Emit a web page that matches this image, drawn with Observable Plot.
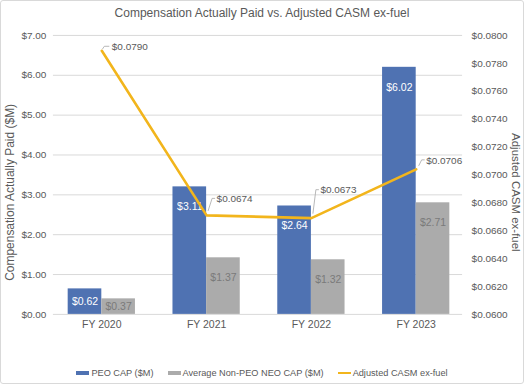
<!DOCTYPE html>
<html><head><meta charset="utf-8">
<script src="https://cdn.jsdelivr.net/npm/d3@7"></script>
<script src="https://cdn.jsdelivr.net/npm/@observablehq/plot@0.6"></script>
<style>
body{margin:0;background:#fff;font-family:"Liberation Sans",Arial,sans-serif;}
#wrap{position:relative;width:524px;height:384px;box-sizing:border-box;border:1px solid #d9d9d9;border-radius:3px;overflow:hidden;background:#fff;}
#title{position:absolute;left:-1px;width:524px;top:5px;text-align:center;font-size:12px;color:#595959;white-space:nowrap;}
#plot{position:absolute;left:-1px;top:-1px;}
#legend{position:absolute;top:367px;left:-1px;width:524px;display:flex;justify-content:center;align-items:center;font-size:9.2px;color:#595959;white-space:nowrap;}
.item{display:flex;align-items:center;margin:0 7px;}
.sw{display:inline-block;width:13px;margin-right:2px;}
</style></head>
<body>
<div id="wrap">
  <div id="plot"></div>
  <div id="title"></div>
  <div id="legend"></div>
</div>
<script>
// ---- data ----
const years = ["FY 2020", "FY 2021", "FY 2022", "FY 2023"];
const peoCap = [0.64, 3.20, 2.72, 6.20];
const peoLabels = ["$0.62", "$3.11", "$2.64", "$6.02"];
const neoCap = [0.39, 1.42, 1.37, 2.80];
const neoLabels = ["$0.37", "$1.37", "$1.32", "$2.71"];
const casm = [0.0789, 0.0671, 0.0669, 0.0704];
const casmLabels = ["$0.0790", "$0.0674", "$0.0673", "$0.0706"];
const leftTicks = [0, 1, 2, 3, 4, 5, 6, 7];
const rightTicks = [0.060, 0.062, 0.064, 0.066, 0.068, 0.070, 0.072, 0.074, 0.076, 0.078, 0.080];
const seriesNames = ["PEO CAP ($M)", "Average Non-PEO NEO CAP ($M)", "Adjusted CASM ex-fuel"];
const titleText = "Compensation Actually Paid vs. Adjusted CASM ex-fuel";
const leftTitle = "Compensation Actually Paid ($M)";
const rightTitle = "Adjusted CASM ex-fuel";

// ---- style ----
const BLUE = "#4f72b2", GRAY = "#ababab", GOLD = "#f2b51c", TXT = "#595959";
const FONT = '"Liberation Sans", Arial, sans-serif';
// label offsets (px) for the line data labels and leader lines
const lineLabelOffsets = [
  {dx: 10, dy: -4, lead: [[1,-1],[3,-4],[8,-4]]},
  {dx: 10, dy: -16.5, lead: [[2,-4],[6,-16.5],[9,-16.5]]},
  {dx: 9, dy: -28, lead: [[2,-4],[5,-28],[8,-28]]},
  {dx: 10, dy: -9, lead: [[3,-3],[6,-9],[9,-9]]}
];

const toLeft = d3.scaleLinear().domain([0.06, 0.08]).range([0, 7]);
const rows = years.map((year, i) => ({year, i, peo: peoCap[i], neo: neoCap[i], casm: casm[i]}));

const outer = 18.8, half = 52.5, barHalfW = 16.85;

const leaders = (index, scales) => {
  const g = d3.create("svg:g").attr("fill", "none").attr("stroke", "#a6a6a6").attr("stroke-width", 0.8);
  const step = scales.x(years[1]) - scales.x(years[0]);
  rows.forEach((r, i) => {
    const px = scales.x(r.year) + step / 2;
    const py = scales.y(toLeft(r.casm));
    const pts = lineLabelOffsets[i].lead.map(([a, b]) => [px + a, py + b]);
    g.append("path").attr("d", d3.line()(pts));
  });
  return g.node();
};

const axisTitles = (index, scales, values, dims) => {
  const g = d3.create("svg:g").attr("fill", TXT).attr("text-anchor", "middle").attr("font-family", FONT);
  const cy = (dims.marginTop + dims.height - dims.marginBottom) / 2 + 18;
  g.append("text").attr("transform", `translate(${dims.marginLeft - 39},${cy}) rotate(-90)`)
    .attr("font-size", 12).text(leftTitle);
  g.append("text").attr("transform", `translate(${dims.width - dims.marginRight + 50},${cy}) rotate(90)`)
    .attr("font-size", 11.5).text(rightTitle);
  return g.node();
};

const chart = Plot.plot({
  width: 524,
  height: 345,
  marginTop: 35,
  marginBottom: 30.5,
  marginLeft: 53,
  marginRight: 61,
  style: {fontFamily: FONT, fontSize: "10px", color: TXT, background: "transparent", overflow: "visible"},
  x: {type: "band", domain: years, range: [48.5, 468.5], padding: 0},
  y: {domain: [0, 7]},
  marks: [
    Plot.gridY(leftTicks, {stroke: "#d9d9d9", strokeOpacity: 1}),
    Plot.barY(rows, {x: "year", y: "peo", fill: BLUE, insetLeft: outer, insetRight: half}),
    Plot.barY(rows, {x: "year", y: "neo", fill: GRAY, insetLeft: half, insetRight: outer}),
    Plot.text(rows, {x: "year", y: d => Math.max(d.peo - 0.5, d.peo / 2), text: d => peoLabels[d.i], dx: -barHalfW, fill: "white", fontSize: 10.5}),
    Plot.text(rows, {x: "year", y: d => Math.max(d.neo - 0.5, d.neo / 2), text: d => neoLabels[d.i], dx: barHalfW, fill: "#7a7a7a", fontSize: 10.5}),
    Plot.line(rows, {x: "year", y: d => toLeft(d.casm), stroke: GOLD, strokeWidth: 2.6}),
    leaders,
    ...rows.map((r, i) => Plot.text([r], {x: "year", y: d => toLeft(d.casm), text: d => casmLabels[d.i], dx: lineLabelOffsets[i].dx, dy: lineLabelOffsets[i].dy, textAnchor: "start", fill: TXT, fontSize: 10})),
    Plot.axisY(leftTicks, {anchor: "left", tickSize: 0, tickPadding: 7, tickFormat: d => "$" + d.toFixed(2), label: null, fontSize: 10}),
    Plot.axisY(rightTicks.map(t => toLeft(t)), {anchor: "right", tickSize: 0, tickPadding: 9, tickFormat: d => "$" + toLeft.invert(d).toFixed(4), label: null, fontSize: 10}),
    Plot.axisX({tickSize: 0, tickPadding: 6, label: null, fontSize: 10.5}),
    axisTitles
  ]
});
document.getElementById("plot").appendChild(chart);
document.getElementById("title").textContent = titleText;

const legend = document.getElementById("legend");
const swatches = [{c: BLUE, h: 4}, {c: GRAY, h: 4}, {c: GOLD, h: 2}];
seriesNames.forEach((name, i) => {
  const it = document.createElement("span");
  it.className = "item";
  const sw = document.createElement("span");
  sw.className = "sw";
  sw.style.background = swatches[i].c;
  sw.style.height = swatches[i].h + "px";
  const t = document.createElement("span");
  t.textContent = name;
  it.appendChild(sw); it.appendChild(t);
  legend.appendChild(it);
});
</script>
</body></html>
